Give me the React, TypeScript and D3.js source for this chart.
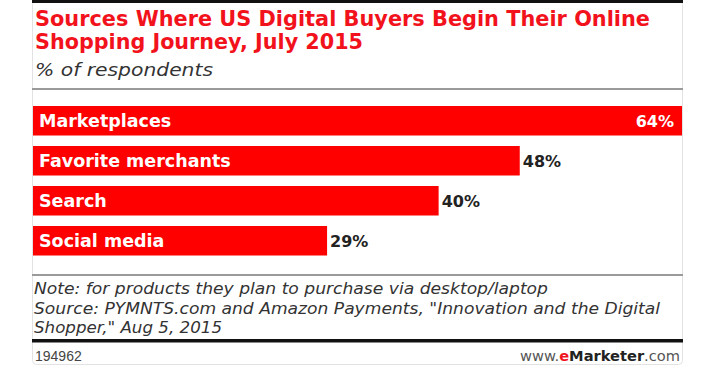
import React from "react";
import * as d3 from "d3";

const categories = ["Marketplaces", "Favorite merchants", "Search", "Social media"];
const values = [64, 48, 40, 29];
const titleLines = [
  "Sources Where US Digital Buyers Begin Their Online",
  "Shopping Journey, July 2015",
];
const titleWidths = [615, 328];
const subtitle = "% of respondents";
const noteLines = [
  "Note: for products they plan to purchase via desktop/laptop",
  "Source: PYMNTS.com and Amazon Payments, \"Innovation and the Digital",
  "Shopper,\" Aug 5, 2015",
];
const noteWidths = [514, 626, 188];
const chartId = "194962";

const W = 718;
const H = 379;
const cardL = 32;
const cardR = 682;
const barL = 33;

export default function App() {
  const x = d3.scaleLinear().domain([0, 64]).range([barL, cardR]);
  const y = d3
    .scaleBand<string>()
    .domain(categories)
    .range([106, 255.5])
    .paddingInner(0.2625)
    .paddingOuter(0);
  const bh = y.bandwidth();

  return (
    <svg
      width={W}
      height={H}
      style={{ position: "absolute", left: 0, top: 0, background: "#fff" }}
    >
      <rect
        x={cardL + 0.5}
        y={0.5}
        width={cardR - cardL}
        height={364}
        rx={4}
        fill="#fff"
        stroke="#e2e2e2"
      />
      <rect x={cardL} y={0} width={cardR - cardL + 1} height={3} fill="#111" />
      {titleLines.map((t, i) => (
        <text
          key={i}
          x={35}
          y={26 + i * 23}
          fill="#f2121c"
          fontFamily="DejaVu Sans, sans-serif"
          fontWeight="bold"
          fontSize={21.5}
          textLength={titleWidths[i]}
          lengthAdjust="spacingAndGlyphs"
        >
          {t}
        </text>
      ))}
      <text
        x={35}
        y={76}
        fill="#333"
        fontFamily="DejaVu Sans, sans-serif"
        fontStyle="italic"
        fontSize={18.5}
        textLength={178}
        lengthAdjust="spacingAndGlyphs"
      >
        {subtitle}
      </text>
      <rect x={cardL} y={88} width={cardR - cardL + 1} height={2} fill="#9a9a9a" />

      {categories.map((c, i) => {
        const v = values[i];
        const y0 = y(c) as number;
        const inside = i === 0;
        return (
          <g key={c}>
            <rect x={barL} y={y0} width={x(v) - barL} height={bh} fill="#ff0000" />
            <text
              x={39}
              y={y0 + 20.5}
              fill="#fff"
              fontFamily="DejaVu Sans, sans-serif"
              fontWeight="bold"
              fontSize={17.5}
            >
              {c}
            </text>
            <text
              x={inside ? x(v) - 8 : x(v) + 3}
              y={y0 + 20.5}
              textAnchor={inside ? "end" : "start"}
              fill={inside ? "#fff" : "#222"}
              fontFamily="DejaVu Sans, sans-serif"
              fontWeight="bold"
              fontSize={16}
            >
              {v}%
            </text>
          </g>
        );
      })}

      <rect x={cardL} y={274} width={cardR - cardL + 1} height={2} fill="#9a9a9a" />
      {noteLines.map((t, i) => (
        <text
          key={i}
          x={34}
          y={294 + i * 19.5}
          fill="#333"
          fontFamily="DejaVu Sans, sans-serif"
          fontStyle="italic"
          fontSize={16.5}
          textLength={noteWidths[i]}
          lengthAdjust="spacingAndGlyphs"
        >
          {t}
        </text>
      ))}
      <rect x={cardL} y={339} width={cardR - cardL + 1} height={3.5} fill="#111" />
      <text
        x={35}
        y={361}
        fill="#444"
        fontFamily="Liberation Sans, Arial, sans-serif"
        fontSize={14}
      >
        {chartId}
      </text>
      <text
        x={680}
        y={361}
        textAnchor="end"
        fontFamily="DejaVu Sans, sans-serif"
        fontSize={14}
        textLength={160}
        lengthAdjust="spacingAndGlyphs"
      >
        <tspan fill="#555">www.</tspan>
        <tspan fill="#f0141e" fontWeight="bold">e</tspan>
        <tspan fill="#222" fontWeight="bold">Marketer</tspan>
        <tspan fill="#555">.com</tspan>
      </text>
    </svg>
  );
}
